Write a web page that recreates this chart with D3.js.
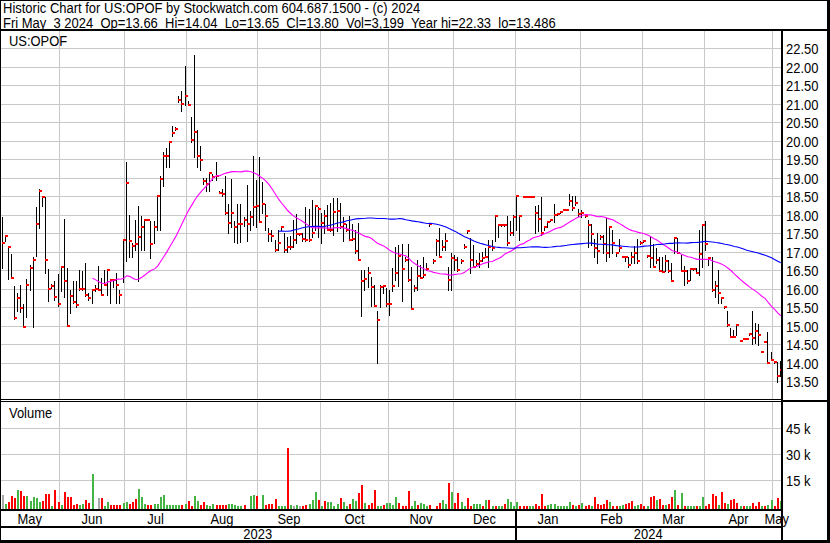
<!DOCTYPE html>
<html><head><meta charset="utf-8">
<script src="https://cdn.jsdelivr.net/npm/d3@7/dist/d3.min.js"></script>
<style>
html,body{margin:0;padding:0;background:#fff;}
svg{display:block;}
text{font-family:"Liberation Sans",Arial,sans-serif;fill:#000;}
</style></head><body>
<svg id="c" width="830" height="543"></svg>
<script>
// ---------------- DATA ----------------
const symbol = "US:OPOF";
const headerLine1 = "Historic Chart for US:OPOF by Stockwatch.com 604.687.1500 - (c) 2024";
const headerLine2 = "Fri May  3 2024  Op=13.66  Hi=14.04  Lo=13.65  Cl=13.80  Vol=3,199  Year hi=22.33  lo=13.486";
const firstDay = "2023-05-04", lastDay = "2024-05-03";
const marketHolidays = ["2023-05-29","2023-06-19","2023-07-04","2023-09-04","2023-11-23","2023-12-25",
                        "2024-01-01","2024-01-15","2024-02-19","2024-03-29"];
const priceTicks = [13.5,14,14.5,15,15.5,16,16.5,17,17.5,18,18.5,19,19.5,20,20.5,21,21.5,22,22.5];
const volumeTicks = [15,30,45];          // thousands of shares
const maShortDays = 30, maLongDays = 90;

const highs = [
 17.95,17.43,17.15,16.94,16.08,15.88,16.10,15.58,16.26,16.65,
 16.87,18.20,18.69,18.49,18.49,16.54,16.12,16.20,16.40,16.62,
 17.88,16.57,15.97,16.21,16.22,16.51,16.47,16.69,15.88,15.99,
 16.10,16.62,16.30,16.51,16.51,16.26,16.26,16.42,15.97,17.32,
 19.42,18.00,17.23,17.86,18.24,17.96,17.86,17.86,17.82,17.82,
 18.51,19.05,19.70,19.80,19.99,20.40,20.36,21.20,21.34,22.01,
 21.07,20.64,22.33,20.30,19.87,19.00,19.00,19.14,19.10,19.42,
 18.65,18.70,19.04,18.30,18.98,17.83,18.30,18.30,17.93,18.80,
 18.10,19.60,18.93,19.56,18.90,18.30,17.64,17.60,17.32,17.60,
 17.70,17.50,17.41,17.43,17.86,18.02,17.50,17.50,18.20,18.15,
 18.41,18.25,18.20,18.04,18.13,18.27,18.33,18.45,18.45,18.32,
 17.95,17.75,17.96,17.76,17.59,17.77,16.50,16.50,16.60,16.33,
 16.10,15.39,16.10,16.10,16.02,15.97,16.56,17.14,17.19,17.21,
 16.85,17.20,16.60,16.10,16.78,16.65,16.87,16.69,17.76,16.80,
 17.34,17.64,17.32,17.50,16.60,16.96,16.92,16.87,16.80,17.20,
 17.60,17.37,17.19,16.78,16.96,17.00,17.10,17.32,17.32,18.00,
 17.76,17.75,17.76,17.97,17.82,18.00,18.51,17.99,18.47,18.47,
 18.47,18.47,18.23,18.27,18.48,17.70,17.80,17.87,18.30,18.06,
 18.10,18.12,18.12,18.56,18.50,18.50,18.17,18.13,18.00,17.86,
 17.75,17.34,17.52,17.45,17.46,17.91,17.70,17.59,17.00,17.34,
 16.90,16.87,16.85,16.99,17.17,17.34,17.28,17.33,16.92,17.43,
 17.21,17.10,16.87,16.87,16.91,16.78,16.69,17.39,17.37,16.91,
 16.62,16.51,16.56,16.56,16.56,17.60,17.76,17.82,16.87,16.87,
 16.20,16.51,15.75,15.52,15.40,14.93,14.89,15.02,14.60,14.63,
 14.63,14.80,15.40,15.07,15.05,14.30,14.55,14.82,14.28,14.05,
 14.03,14.04];
const lows = [
 16.55,17.30,16.26,16.30,15.18,15.40,15.38,14.96,15.25,15.97,
 14.98,16.89,17.63,18.24,16.42,15.68,16.03,15.70,15.53,15.95,
 15.79,14.99,15.34,15.61,15.50,15.97,15.97,15.81,15.70,15.61,
 15.95,15.97,15.82,16.10,15.82,15.61,16.06,15.61,15.61,16.18,
 16.76,16.87,16.87,17.05,16.22,17.05,17.05,17.86,16.83,17.23,
 17.59,17.60,18.77,19.30,19.30,20.14,20.30,21.05,20.80,20.97,
 20.97,19.98,19.55,19.30,19.22,18.82,18.63,18.63,18.95,18.95,
 18.58,18.50,18.03,17.51,17.66,17.26,17.24,17.26,17.71,17.29,
 17.60,17.73,17.68,17.80,18.05,17.60,17.28,17.30,17.03,17.05,
 17.60,17.00,17.00,17.07,17.14,17.23,17.45,17.28,17.28,17.30,
 17.41,17.59,17.39,17.23,17.50,17.59,17.57,17.46,17.57,17.65,
 17.30,17.55,17.32,17.33,16.96,16.78,15.27,15.97,16.06,15.54,
 15.54,13.99,15.50,15.90,15.54,15.28,15.93,16.24,16.08,15.67,
 16.75,16.20,15.45,15.95,15.97,16.29,16.33,16.51,17.70,16.70,
 16.92,16.87,17.05,17.05,15.97,15.97,16.51,16.47,16.70,17.10,
 17.50,16.42,16.60,16.64,16.60,16.74,16.87,16.60,17.05,17.28,
 17.41,17.71,17.70,17.19,17.46,17.46,17.60,17.32,18.47,18.47,
 18.47,18.47,17.50,17.55,17.45,17.60,17.66,17.83,17.80,18.00,
 18.04,18.12,18.12,18.26,18.12,18.26,17.97,17.95,17.95,17.14,
 17.19,16.85,16.69,17.35,16.98,16.74,16.87,16.96,16.90,17.02,
 16.85,16.76,16.60,16.69,16.69,16.71,17.20,17.27,16.86,16.60,
 16.58,16.70,16.49,16.46,16.49,16.46,16.20,16.96,16.96,16.47,
 16.11,16.15,16.24,16.50,16.42,16.38,16.58,17.05,16.65,15.93,
 15.79,15.61,15.61,15.48,15.00,14.71,14.71,14.75,14.60,14.63,
 14.63,14.75,14.50,14.53,14.48,14.30,14.55,13.99,14.08,14.00,
 13.49,13.65];
const closes = [
 17.25,17.43,17.12,16.30,15.20,15.74,15.47,14.98,16.09,16.57,
 16.79,17.74,18.65,18.49,16.79,16.00,16.08,15.79,15.60,16.60,
 16.22,15.00,15.81,15.65,15.55,16.00,16.00,15.84,15.76,15.98,
 16.00,15.97,15.83,16.11,16.50,16.24,16.24,16.09,15.84,17.32,
 18.85,17.28,17.16,17.21,17.41,17.68,17.86,17.86,17.22,17.66,
 18.50,18.97,19.60,19.60,19.97,20.22,20.33,21.11,21.00,21.20,
 20.97,20.01,20.25,19.58,19.47,18.91,18.83,19.13,19.02,19.05,
 18.60,18.55,18.05,17.77,18.05,17.68,17.74,17.76,17.85,17.74,
 17.93,18.20,18.24,17.81,18.30,17.96,17.49,17.42,17.05,17.25,
 17.66,17.05,17.14,17.14,17.32,17.48,17.48,17.35,17.31,17.31,
 17.52,18.23,18.16,17.79,17.96,17.59,17.59,18.08,18.09,17.67,
 17.76,17.59,17.32,17.34,17.03,16.78,16.21,16.27,16.44,16.06,
 15.54,15.16,16.06,16.08,15.60,15.60,16.08,16.42,16.89,16.53,
 16.78,16.24,15.46,16.03,16.35,16.30,16.38,16.54,17.74,16.74,
 17.30,16.87,17.12,17.28,16.24,16.83,16.78,16.50,16.74,17.14,
 17.55,16.78,16.60,16.66,16.74,16.83,16.87,17.12,17.09,17.97,
 17.73,17.73,17.73,17.25,17.52,17.95,18.51,17.98,18.47,18.47,
 18.47,18.47,18.06,17.89,17.50,17.66,17.80,17.85,18.00,18.03,
 18.08,18.12,18.12,18.36,18.18,18.31,18.03,18.06,17.97,17.73,
 17.48,17.09,17.01,17.41,17.22,16.98,17.68,17.25,16.96,17.09,
 16.87,16.85,16.65,16.85,16.97,16.74,17.25,17.30,16.89,16.83,
 16.60,16.78,16.49,16.46,16.74,16.49,16.20,17.37,16.96,16.47,
 16.49,16.20,16.53,16.53,16.42,16.94,17.73,17.20,16.83,15.96,
 16.08,15.90,15.74,15.50,15.03,14.71,14.71,15.01,14.60,14.63,
 14.63,14.77,14.68,14.87,14.75,14.30,14.55,13.99,14.08,14.03,
 13.64,13.80];
// volume in thousands of shares
const volumesK = [
 6.5,1.5,2.3,6,4.6,9.4,8.8,6,6,3,
 5.4,5,2.7,3,7.1,7.1,0.3,9.4,2.7,0.5,
 8.3,5.6,5.6,1,1.5,1,1.2,3.7,2.1,18.7,
 0,4.6,4.6,0.3,2.7,1,0.5,0.5,0.5,1.7,
 2.7,1.5,2.7,4.2,10,5.6,1.5,0.5,0.5,1.3,
 1.2,5.6,6.5,0.8,0.8,0.8,0.5,1,0.8,1.5,
 3,0.2,6,3,0.8,2.7,0.5,0.1,1.3,0.5,
 0.5,0.5,1,1.5,1.3,0.8,0.3,0.1,0.8,0,
 6,6.5,6.2,0,6.5,0.5,1.5,1.5,4.2,0.3,
 0.3,0.3,33.8,0.8,0.3,0.8,0.3,0.3,0.8,1.5,
 3.7,8.3,3.7,0.1,3,2.7,2.7,0.2,1.5,5,
 2.3,0.3,1.5,4.2,3,7.9,12.3,2.1,0.8,2.1,
 9.4,0.2,0.1,0.8,2.1,2.1,0.8,5.6,2.1,0.1,
 0.1,8.8,0.1,3,0.8,2.1,1.5,0.1,0.5,0,
 0.1,2.1,3.7,1.5,13.6,8.5,2.1,7.9,2.7,0.1,
 5,0.1,1.5,1.2,1.5,0.1,3.7,3.7,0.1,0.1,
 0.1,0.1,1.5,4.2,2.7,0.1,2.7,0.2,0.1,0.1,
 0.1,0.1,1.5,0.1,7.1,0.1,0.8,1.5,1.5,0.1,
 0.1,0.1,0.1,2.7,0.8,0.1,0.8,2.1,0.1,0.8,
 0.1,5.4,1.5,0.8,1.5,3.5,2.7,0.1,0.1,0.1,
 0.8,1.5,2.1,3,0.1,0.8,1.5,0.1,0.1,5.4,
 6,3.5,4,0.8,0.8,1.5,5.4,9.2,0.8,7.9,
 0.1,0.1,0.1,0.1,0.1,0.1,5.4,0.1,1.5,7.3,
 6,0.8,8.3,2.1,1.5,3.5,4.2,2.1,0.1,0.1,
 0.1,0.1,2.1,0.1,2.7,0.1,0.1,0.8,3.5,0.1,
 5,3.2];
// day direction shown by the volume bar colour: g = up, r = down, n = unchanged
const volumeDir = (
 "ngrrrgrrgg"+"gggrrrgrrg"+"rrrrrggrrg"+"nnrggrrrrg"+"grrrgggrrg"+
 "ggggggggrg"+"rrggrrgggr"+"rrrgggggrn"+"ggrngrrrrg"+"ggrgngnrrg"+
 "ggrgrggggr"+"ggrggrrgrr"+"rggrggggrr"+"rrggrgggrn"+"rrggrgrrgg"+
 "rrgggrgrgr"+"ggrggggrrr"+"ggrrrrgggg"+"ggggrgrgrr"+"grrrrrgrrg"+
 "grrrggrrgr"+"rgrrgrrgrg"+"rgggrggrrr"+"rgrrgrrrgr"+"ggrrrgrggr"+
 "rg").split("");

// ---------------- LAYOUT ----------------
const svg = d3.select("#c");
const plotL = 1, plotR = 781;
const priceTop = 31, priceBot = 399;
const volTop = 402, volBot = 509;
const GRID = "#c8c8c8";
const n = closes.length;

// trading calendar
const hol = new Set(marketHolidays);
const dates = [];
for (let d = new Date(firstDay + "T00:00:00Z"); d <= new Date(lastDay + "T00:00:00Z"); d.setUTCDate(d.getUTCDate() + 1)) {
  const wd = d.getUTCDay(), s = d.toISOString().slice(0, 10);
  if (wd === 0 || wd === 6 || hol.has(s)) continue;
  dates.push(new Date(d));
}

const x = d3.scaleLinear().domain([0, n - 1]).range([1.7, 779.8]);
const y = d3.scaleLinear().domain([13.5, 22.5]).range([381.3, 48.3]);
const vy = d3.scaleLinear().domain([0, 45]).range([506.3, 428.3]);

// month boundaries
const monthStarts = [];
for (let i = 1; i < Math.min(n, dates.length); i++) {
  if (dates[i].getUTCMonth() !== dates[i - 1].getUTCMonth()) monthStarts.push(i);
}
const gx = i => Math.round(x(i) - 1.5) + 0.5;

svg.append("rect").attr("width", 830).attr("height", 543).attr("fill", "#fff");

// ---- grids ----
const grid = svg.append("g").attr("stroke", GRID).attr("stroke-width", 1).attr("shape-rendering", "crispEdges");
priceTicks.forEach(p => {
  const yy = Math.round(y(p)) + 0.5;
  grid.append("line").attr("x1", plotL).attr("x2", plotR).attr("y1", yy).attr("y2", yy);
});
volumeTicks.forEach(v => {
  const yy = Math.round(vy(v)) + 0.5;
  grid.append("line").attr("x1", plotL).attr("x2", plotR).attr("y1", yy).attr("y2", yy);
});
monthStarts.forEach(i => {
  const xx = gx(i);
  grid.append("line").attr("x1", xx).attr("x2", xx).attr("y1", priceTop).attr("y2", priceBot);
  grid.append("line").attr("x1", xx).attr("x2", xx).attr("y1", volTop).attr("y2", volBot);
});

// ---- price bars ----
const bars = svg.append("g").attr("shape-rendering", "crispEdges");
for (let i = 0; i < n; i++) {
  const bx = Math.round(x(i));
  const yh = Math.round(y(highs[i])), yl = Math.round(y(lows[i]));
  if (yl - yh >= 1) {
    bars.append("rect").attr("x", bx).attr("y", yh).attr("width", 1).attr("height", yl - yh + 1).attr("fill", "#000");
  }
}
for (let i = 0; i < n; i++) {
  const bx = Math.round(x(i));
  bars.append("rect").attr("x", bx).attr("y", Math.round(y(closes[i])) - 1).attr("width", 3).attr("height", 2).attr("fill", "#ff0000");
}

// ---- moving averages ----
function sma(arr, w) {
  return arr.map((_, i) => i < w - 1 ? null : d3.mean(arr.slice(i - w + 1, i + 1)));
}
const maShort = sma(closes, maShortDays), maLong = sma(closes, maLongDays);
const line = d3.line().defined(d => d[1] !== null).x(d => x(d[0]) + 1).y(d => y(d[1]));
svg.append("path").attr("d", line(maShort.map((v, i) => [i, v]))).attr("fill", "none").attr("stroke", "#ff00ff").attr("stroke-width", 1.1);
svg.append("path").attr("d", line(maLong.map((v, i) => [i, v]))).attr("fill", "none").attr("stroke", "#0000ff").attr("stroke-width", 1.1);

// ---- volume bars ----
const vcol = { g: "#44b444", r: "#ff0000", n: "#a8a8a8" };
const vg = svg.append("g").attr("shape-rendering", "crispEdges");
for (let i = 0; i < n; i++) {
  if (!(volumesK[i] > 0)) continue;
  const bx = Math.round(x(i));
  const top = Math.min(Math.round(vy(volumesK[i])), 507);
  vg.append("rect").attr("x", bx).attr("y", top).attr("width", 2).attr("height", volBot - top)
    .attr("fill", vcol[volumeDir[i]] || vcol.n);
}

// ---- frame ----
const fr = svg.append("g").attr("fill", "#000").attr("shape-rendering", "crispEdges");
const R = (x0, y0, w, h) => fr.append("rect").attr("x", x0).attr("y", y0).attr("width", w).attr("height", h);
R(0, 0, 830, 1);          // top
R(0, 0, 1, 543);          // left
R(827, 0, 3, 543);        // right
R(0, 540, 830, 3);        // bottom
R(0, 29, 830, 2);         // under header
R(781, 29, 2, 513);       // axis separator
R(0, 399, 781, 1); R(0, 401, 781, 1); R(781, 400, 48, 2); // panel separator
R(0, 509, 781, 2);        // volume bottom
R(0, 526, 781, 2);        // month row bottom
const janIdx = monthStarts.find(i => dates[i].getUTCMonth() === 0);
R(Math.round(x(janIdx) - 1.5), 511, 2, 29); // year separator

// ---- text ----
function txt(xp, yp, s, anchor = "start", size = 14, sx = 0.925) {
  return svg.append("text").attr("transform", `translate(${xp},${yp}) scale(${sx},1)`)
    .attr("text-anchor", anchor).style("font-size", size + "px").style("white-space", "pre")
    .attr("xml:space", "preserve").text(s);
}
txt(3, 13, headerLine1, "start", 14, 0.928);
txt(3, 27.5, headerLine2, "start", 14, 0.928);
txt(9, 45.5, symbol);
txt(9, 417.5, "Volume");

const fmt = d3.format(".2f");
priceTicks.forEach(p => txt(786, Math.round(y(p)) + 5.5, fmt(p)));
volumeTicks.forEach(v => txt(786, Math.round(vy(v)) + 5.5, v + " k"));

// month labels
const bounds = [plotL - 1, ...monthStarts.map(gx), plotR];
const segStart = [0, ...monthStarts];
const mfmt = d3.utcFormat("%b");
for (let k = 0; k < segStart.length; k++) {
  const cx = (bounds[k] + bounds[k + 1]) / 2;
  txt(cx, 523.5, mfmt(dates[segStart[k]]), "middle");
}
// year labels
const jx = gx(janIdx);
txt((0 + jx) / 2, 539, String(dates[0].getUTCFullYear()), "middle");
txt((jx + plotR) / 2, 539, String(dates[n - 1].getUTCFullYear()), "middle");
</script>
</body></html>
